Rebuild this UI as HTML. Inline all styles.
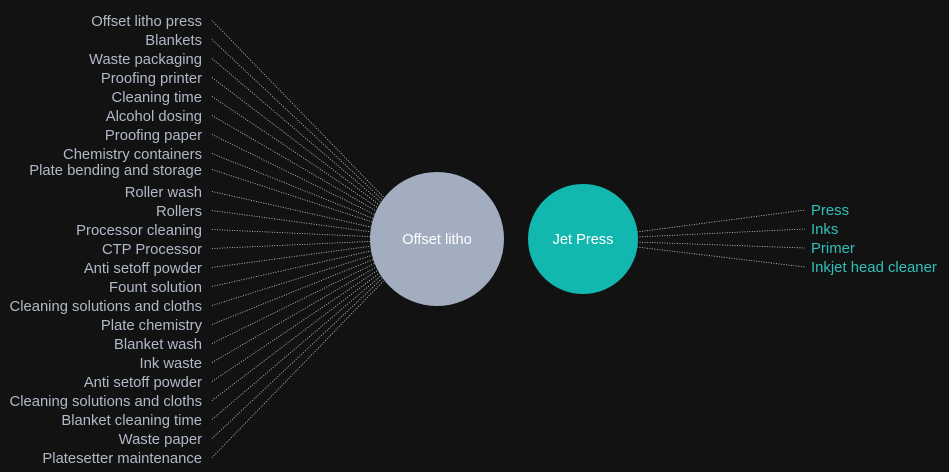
<!DOCTYPE html>
<html><head><meta charset="utf-8"><style>
html,body{margin:0;padding:0;background:#121212;}
svg{display:block;}
text{font-family:"Liberation Sans",sans-serif;font-size:14.8px;}
#RT text{font-size:14.9px;}
</style></head><body>
<svg width="949" height="472" viewBox="0 0 949 472" xmlns="http://www.w3.org/2000/svg">
<rect width="949" height="472" fill="#121212"/>
<g id="L" stroke="#cfd3da" stroke-width="0.8" stroke-dasharray="1 1.5" fill="none"></g>
<g id="R" stroke="#cfd3da" stroke-width="0.8" stroke-dasharray="1 1.5" fill="none"></g>
<circle cx="437" cy="239" r="67" fill="#a2adc0"/>
<text x="437" y="244" fill="#fff" text-anchor="middle" style="font-size:14.6px">Offset litho</text>
<circle cx="583" cy="239" r="55" fill="#12b8b0"/>
<text x="583" y="244" fill="#fff" text-anchor="middle" style="font-size:14.6px">Jet Press</text>
<g id="LT" fill="#b0b9c8" text-anchor="end"></g>
<g id="RT" fill="#2fc1b8"></g>
</svg>
<script>
var ns="http://www.w3.org/2000/svg";
var L=[["Offset litho press",21],["Blankets",40],["Waste packaging",59],["Proofing printer",78],["Cleaning time",97],["Alcohol dosing",116],["Proofing paper",135],["Chemistry containers",154],["Plate bending and storage",170],["Roller wash",192],["Rollers",211],["Processor cleaning",230],["CTP Processor",249],["Anti setoff powder",268],["Fount solution",287],["Cleaning solutions and cloths",306],["Plate chemistry",325],["Blanket wash",344],["Ink waste",363],["Anti setoff powder",382],["Cleaning solutions and cloths",401],["Blanket cleaning time",420],["Waste paper",439],["Platesetter maintenance",458]];
function el(t,a,p,txt){var e=document.createElementNS(ns,t);for(var k in a)e.setAttribute(k,a[k]);if(txt)e.textContent=txt;document.getElementById(p).appendChild(e);}
L.forEach(function(d){var y=d[1];var ly=y-0.5;
 var ey=239+(ly-239)*0.18;
 el("line",{x1:212,y1:ly,x2:386,y2:ey},"L");
 el("text",{x:202,y:y+5},"LT",d[0]);});
var R=[["Press",210],["Inks",229],["Primer",248],["Inkjet head cleaner",267]];
R.forEach(function(d,i){var y=d[1];el("line",{x1:637,y1:232+i*5,x2:805,y2:y},"R");el("text",{x:811,y:y+5},"RT",d[0]);});
</script>
</body></html>
